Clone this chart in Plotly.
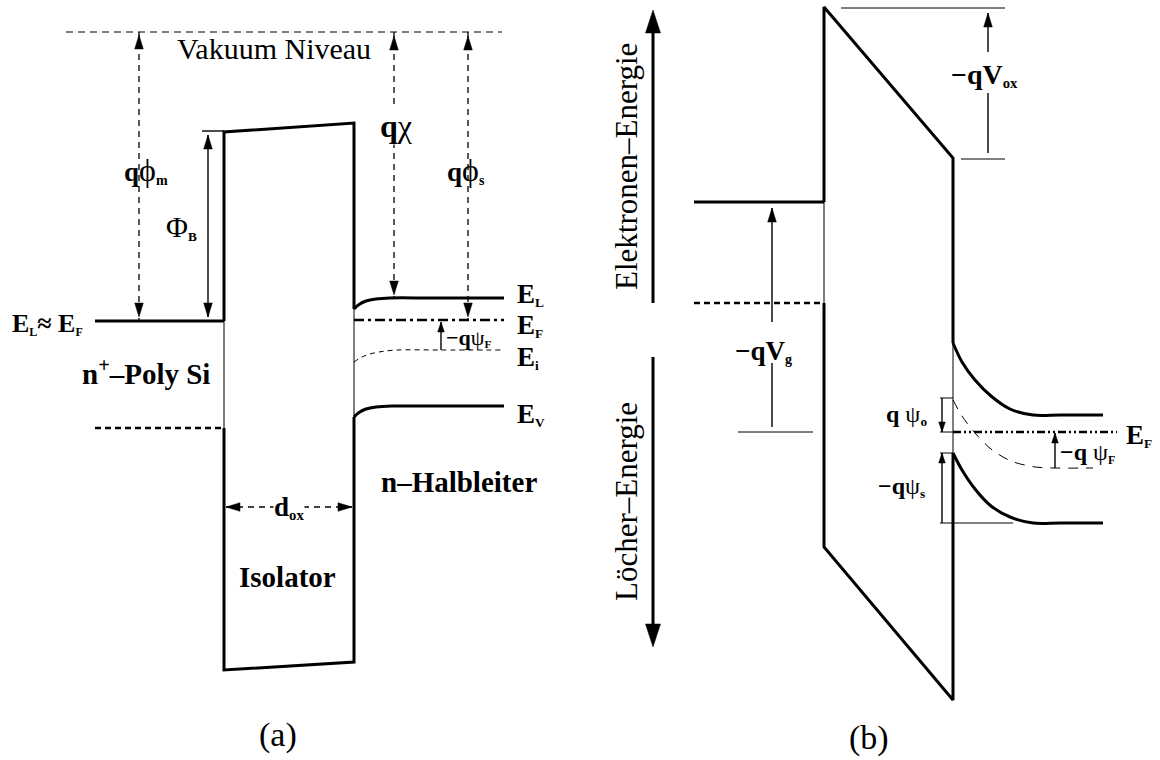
import plotly.graph_objects as go

SERIF = "Liberation Serif"

# ---------------- panel (a): MOS band diagram in equilibrium (pixel space) ----------------
VAC_X = [66, 502]
VAC_Y = [32, 32]

A_GATE_EF_X = [95, 224]
A_GATE_EF_Y = [321, 321]
A_GATE_EV_X = [95, 224]
A_GATE_EV_Y = [428, 428]

A_OX_UP_X = [224, 224, 354, 354]
A_OX_UP_Y = [321, 132, 123, 309]
A_OX_LO_X = [224, 224, 354, 354]
A_OX_LO_Y = [428, 670, 662, 417]
A_OX_THIN_X = [224, 224, None, 354, 354]
A_OX_THIN_Y = [321, 428, None, 309, 417]

A_EL_X = [354, 359, 366, 376, 390, 430, 504]
A_EL_Y = [309, 304.5, 301, 299, 298, 298, 298]
A_EV_X = [354, 359, 366, 376, 392, 430, 504]
A_EV_Y = [417, 412.5, 409, 407, 406, 406, 406]
A_EI_X = [354, 361, 370, 382, 398, 440, 504]
A_EI_Y = [362, 357.5, 354, 351.5, 350, 350, 350]
A_EF_X = [354, 504]
A_EF_Y = [320, 320]

# dimension arrows (a)
A_DASH_ARROWS_X = [139, 139, None, 394, 394, None, 468, 468]
A_DASH_ARROWS_Y = [32, 321, None, 32, 298, None, 32, 320]
A_DOX_X = [226, 352]
A_DOX_Y = [507, 507]
A_SOLID_ARROWS_X = [208, 208, None, 441, 441, None, 202, 224]
A_SOLID_ARROWS_Y = [135, 317, None, 350, 322, None, 131, 131]

# ---------------- panel (b): MOS band diagram under bias ----------------
B_GATE_EF_X = [694, 824]
B_GATE_EF_Y = [202, 202]
B_GATE_EV_X = [694, 824]
B_GATE_EV_Y = [303, 303]

B_OX_UP_X = [824, 824, 953, 953]
B_OX_UP_Y = [202, 7, 158, 343]
B_OX_LO_X = [824, 824, 953, 953]
B_OX_LO_Y = [303, 547, 700, 453]
B_OX_THIN_X = [824, 824, None, 953, 953]
B_OX_THIN_Y = [202, 303, None, 343, 453]

B_EC_X = [953, 962, 975, 991, 1010, 1033, 1060, 1103]
B_EC_Y = [343, 362, 380, 396, 409, 415, 415, 415]
B_EV_X = [953, 962, 975, 991, 1010, 1033, 1060, 1103]
B_EV_Y = [453, 470, 489, 506, 517, 523, 523, 523]
B_EI_X = [953, 962, 975, 991, 1011, 1035, 1055, 1093]
B_EI_Y = [400, 416, 433, 449, 461, 467, 468, 468]
B_EF_X = [953, 1117]
B_EF_Y = [432, 432]

# axis arrows (b)
B_AXIS_X = [653, 653, None, 653, 653]
B_AXIS_Y = [303, 25, None, 357, 632]

# dimension lines (b): ticks and shafts
B_TICKS_X = [841, 1005, None, 961, 1005, None, 738, 813, None, 940, 953, None, 940, 953, None, 940, 953, None, 940, 1013]
B_TICKS_Y = [8, 8, None, 159, 159, None, 432, 432, None, 398, 398, None, 432, 432, None, 453, 453, None, 523, 523]
B_SHAFTS_X = [988, 988, None, 988, 988, None, 772, 772, None, 772, 772, None, 942, 942, None, 942, 942, None, 1055, 1055]
B_SHAFTS_Y = [13, 52, None, 93, 153, None, 208, 322, None, 363, 427, None, 398, 432, None, 453, 523, None, 468, 433]

# arrow heads: tip position, direction, size class
HEAD_X = [139, 139, 394, 394, 468, 468, 208, 208, 441, 226, 352,
          653, 653, 988, 772, 942, 942, 1055]
HEAD_Y = [35, 317, 36, 295, 36, 317, 135, 317, 322, 507, 507,
          10, 647, 13, 208, 432, 453, 433]
HEAD_DIR = ["up", "down", "up", "down", "up", "down", "up", "down", "up", "left", "right",
            "up", "down", "up", "up", "down", "up", "up"]
HEAD_SIZE = ["mid", "mid", "mid", "mid", "mid", "mid", "mid", "mid", "small", "mid", "mid",
             "big", "big", "mid", "mid", "small", "small", "small"]

# ---------------- labels ----------------
def sub(t, px):
    # plotly renders <sub> at 70 % of the surrounding size
    return f'<span style="font-size:{round(px / 0.7)}px"><sub>{t}</sub></span>'

def big(t, px):
    return f'<span style="font-size:{px}px">{t}</span>'

LABEL_TEXT = [
    "Vakuum Niveau",
    "<b>q</b>" + big("ϕ", 32) + sub("<b>m</b>", 14),
    big("Φ", 30) + sub("<b>B</b>", 13),
    "<b>q</b>χ",
    "<b>q</b>" + big("ϕ", 32) + sub("<b>s</b>", 14),
    "<b>E</b>" + sub("<b>L</b>", 12) + "<b>≈ E</b>" + sub("<b>F</b>", 12),
    "<b>n</b><sup><b>+</b></sup><b>–Poly Si</b>",
    "<b>E</b>" + sub("<b>L</b>", 13),
    "<b>E</b>" + sub("<b>F</b>", 13),
    "<b>E</b>" + sub("<b>i</b>", 13),
    "<b>E</b>" + sub("<b>V</b>", 13),
    "<b>−q</b>ψ" + sub("<b>F</b>", 11),
    "<b>d</b>" + sub("<b>ox</b>", 15),
    "<b>Isolator</b>",
    "<b>n–Halbleiter</b>",
    "(a)",
    "Elektronen–Energie",
    "Löcher–Energie",
    "<b>−qV</b>" + sub("<b>ox</b>", 15),
    "<b>−qV</b>" + sub("<b>g</b>", 14),
    "<b>q</b> ψ" + sub("<b>o</b>", 13),
    "<b>−q</b>ψ" + sub("<b>s</b>", 13),
    "<b>−q</b> ψ" + sub("<b>F</b>", 12),
    "<b>E</b>" + sub("<b>F</b>", 13),
    "(b)",
]

# ---------------- figure ----------------
fig = go.Figure()

def add_line(xs, ys, width, dash="solid", shape="linear"):
    fig.add_trace(go.Scatter(
        x=xs, y=ys, mode="lines",
        line=dict(color="black", width=width, dash=dash, shape=shape, smoothing=0.9),
        hoverinfo="skip", showlegend=False))

# panel (a)
add_line(VAC_X, VAC_Y, 1.2, "7px,5px")
add_line(A_GATE_EF_X, A_GATE_EF_Y, 3)
add_line(A_GATE_EV_X, A_GATE_EV_Y, 2.6, "6px,4px")
add_line(A_OX_UP_X, A_OX_UP_Y, 3)
add_line(A_OX_LO_X, A_OX_LO_Y, 3)
add_line(A_OX_THIN_X, A_OX_THIN_Y, 1)
add_line(A_EL_X, A_EL_Y, 3, shape="spline")
add_line(A_EV_X, A_EV_Y, 3, shape="spline")
add_line(A_EI_X, A_EI_Y, 1, "5px,4px", shape="spline")
add_line(A_EF_X, A_EF_Y, 2.6, "10px,4px,3px,4px")
add_line(A_DASH_ARROWS_X, A_DASH_ARROWS_Y, 1.3, "6px,5px")
add_line(A_DOX_X, A_DOX_Y, 1.3, "6px,5px")
add_line(A_SOLID_ARROWS_X, A_SOLID_ARROWS_Y, 1.4)

# panel (b)
add_line(B_GATE_EF_X, B_GATE_EF_Y, 3)
add_line(B_GATE_EV_X, B_GATE_EV_Y, 2.6, "6px,4px")
add_line(B_OX_UP_X, B_OX_UP_Y, 3)
add_line(B_OX_LO_X, B_OX_LO_Y, 3)
add_line(B_OX_THIN_X, B_OX_THIN_Y, 1)
add_line(B_EC_X, B_EC_Y, 3, shape="spline")
add_line(B_EV_X, B_EV_Y, 3, shape="spline")
add_line(B_EI_X, B_EI_Y, 1, "10px,8px", shape="spline")
add_line(B_EF_X, B_EF_Y, 2.6, "8px,3px,2px,3px,2px,3px")
add_line(B_AXIS_X, B_AXIS_Y, 3)
add_line(B_TICKS_X, B_TICKS_Y, 1)
add_line(B_SHAFTS_X, B_SHAFTS_Y, 1.4)

# arrow heads
HEAD_DIM = {"big": (23, 7.5), "mid": (14, 4.3), "small": (10, 3.3)}
hx, hy = [], []
for x, y, d, s in zip(HEAD_X, HEAD_Y, HEAD_DIR, HEAD_SIZE):
    L, W = HEAD_DIM[s]
    if d == "up":
        px, py = [x, x - W, x + W, x], [y, y + L, y + L, y]
    elif d == "down":
        px, py = [x, x - W, x + W, x], [y, y - L, y - L, y]
    elif d == "left":
        px, py = [x, x + L, x + L, x], [y, y - W, y + W, y]
    else:
        px, py = [x, x - L, x - L, x], [y, y - W, y + W, y]
    hx += px + [None]
    hy += py + [None]
fig.add_trace(go.Scatter(x=hx, y=hy, mode="lines", fill="toself", fillcolor="black",
                         line=dict(color="black", width=0.5), hoverinfo="skip", showlegend=False))

# label placement: (x, y, size, xanchor, angle, white background)
LABEL_POS = [
    (274, 48, 30, "center", 0, False),
    (146, 170, 27, "center", 0, False),
    (181, 227, 28, "center", 0, False),
    (396, 126, 32, "center", 0, True),
    (466, 170, 27, "center", 0, False),
    (11, 324, 26, "left", 0, False),
    (146, 372, 29, "center", 0, False),
    (516, 294, 27, "left", 0, False),
    (516, 325, 27, "left", 0, False),
    (516, 357, 27, "left", 0, False),
    (516, 414, 27, "left", 0, False),
    (445, 337, 22, "left", 0, False),
    (289, 507, 27, "center", 0, True),
    (287, 577, 29, "center", 0, False),
    (459, 482, 29, "center", 0, False),
    (278, 735, 34, "center", 0, False),
    (626, 167, 31, "center", -90, False),
    (626, 502, 31, "center", -90, False),
    (984, 75, 28, "center", 0, False),
    (763, 351, 27, "center", 0, False),
    (906, 415, 24, "center", 0, False),
    (901, 487, 24, "center", 0, False),
    (1059, 453, 24, "left", 0, False),
    (1125, 435, 27, "left", 0, False),
    (869, 738, 34, "center", 0, False),
]

for text, (x, y, size, xa, ang, bg) in zip(LABEL_TEXT, LABEL_POS):
    fig.add_annotation(x=x, y=y, text=text, showarrow=False, xanchor=xa, yanchor="middle",
                       textangle=ang, font=dict(family=SERIF, size=size, color="black"),
                       bgcolor="white" if bg else "rgba(0,0,0,0)", borderpad=0)

fig.update_layout(
    width=1160, height=760, margin=dict(l=0, r=0, t=0, b=0),
    paper_bgcolor="white", plot_bgcolor="white",
    font=dict(family=SERIF),
    xaxis=dict(range=[0, 1160], visible=False, fixedrange=True),
    yaxis=dict(range=[760, 0], visible=False, fixedrange=True),
)

fig.write_html("out.html")
